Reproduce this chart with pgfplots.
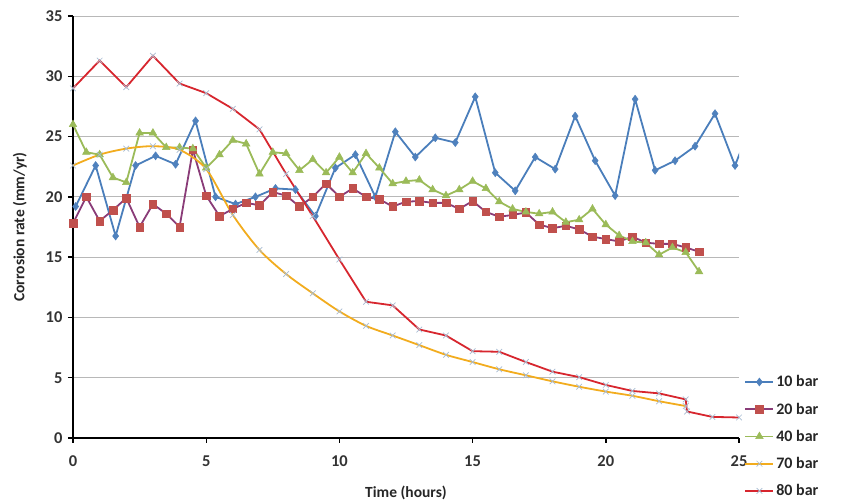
\documentclass[border=0pt]{standalone}
\usepackage{pgfplots}
\pgfplotsset{compat=1.18}
\usepackage{fontspec}
\setmainfont{Carlito}
\definecolor{cblue}{HTML}{4A7EBB}
\definecolor{cbluem}{HTML}{4F81BD}
\definecolor{cred}{HTML}{C0504D}
\definecolor{cpurp}{HTML}{8A3C78}
\definecolor{cgreen}{HTML}{9BBB59}
\definecolor{corange}{HTML}{F2AC1E}
\definecolor{cred2}{HTML}{D7262E}
\definecolor{cxm}{HTML}{A8BCD2}
\begin{document}
\begin{tikzpicture}
\begin{axis}[
  scale only axis, width=666pt, height=422pt,
  xmin=0, xmax=25, ymin=0, ymax=35,
  xtick={0,5,...,25}, ytick={0,5,...,35},
  axis x line*=bottom, axis y line*=left,
  axis line style={line width=1.8pt, black, -},
  tick align=outside, major tick length=5pt,
  tick style={line width=1.4pt, black},
  ymajorgrids, grid style={black!28, line width=0.9pt},
  /pgf/number format/assume math mode=true,
  tick label style={font=\fontsize{16.5}{16.5}\selectfont\bfseries, black!80},
  xticklabel style={yshift=-9pt},
  yticklabel style={xshift=-2pt},
  xlabel={Time (hours)}, ylabel={Corrosion rate (mm/yr)},
  label style={font=\fontsize{15.5}{15.5}\selectfont\bfseries, black!85},
  xlabel style={yshift=-13pt},
  ylabel style={yshift=12pt},
  legend style={at={(rel axis cs:1.008,0.153)}, anchor=north west, draw=none, fill=none,
    font=\fontsize{16}{16}\selectfont\bfseries, row sep=10.5pt, text=black!85,
    inner sep=0pt},
  legend cell align=left,
  legend image code/.code={\draw[mark repeat=2,mark phase=2] plot coordinates {(0pt,0pt) (14pt,0pt) (28pt,0pt)};},
  clip=true,
]
\coordinate (sw) at (rel axis cs:0,0);
\addplot[color=cblue, line width=1.8pt, mark=diamond*, mark size=4pt, mark options={fill=cbluem, draw=cbluem, line width=0.5pt}] coordinates {
(0.1,19.2) (0.85,22.6) (1.6,16.75) (2.35,22.6) (3.1,23.4) (3.85,22.7) (4.6,26.3) (5.35,20.0)
(6.1,19.4) (6.85,20.0) (7.6,20.7) (8.35,20.6) (9.1,18.4) (9.85,22.4) (10.6,23.5) (11.35,20.0)
(12.1,25.4) (12.85,23.3) (13.6,24.9) (14.35,24.5) (15.1,28.3) (15.85,22.0) (16.6,20.5) (17.35,23.3)
(18.1,22.3) (18.85,26.7) (19.6,23.0) (20.35,20.1) (21.1,28.1) (21.85,22.2) (22.6,23.0) (23.35,24.2)
(24.1,26.9) (24.85,22.6) (25.6,26.8)};
\addlegendentry{10 bar}
\addplot[color=cpurp, line width=1.8pt, mark=square*, mark size=3.8pt, mark options={fill=cred, draw=cred, line width=0.5pt}] coordinates {
(0,17.8) (0.5,20.0) (1.0,18.0) (1.5,18.9) (2.0,19.9) (2.5,17.5) (3.0,19.4) (3.5,18.6)
(4.0,17.5) (4.5,23.9) (5.0,20.1) (5.5,18.4) (6.0,19.0) (6.5,19.5) (7.0,19.3) (7.5,20.4)
(8.0,20.1) (8.5,19.2) (9.0,20.0) (9.5,21.1) (10.0,20.0) (10.5,20.7) (11.0,20.0) (11.5,19.8)
(12.0,19.2) (12.5,19.6) (13.0,19.65) (13.5,19.5) (14.0,19.5) (14.5,19.0) (15.0,19.65) (15.5,18.75)
(16.0,18.35) (16.5,18.5) (17.0,18.7) (17.5,17.7) (18.0,17.4) (18.5,17.6) (19.0,17.3) (19.5,16.7)
(20.0,16.5) (20.5,16.3) (21.0,16.7) (21.5,16.2) (22.0,16.1) (22.5,16.1) (23.0,15.8) (23.5,15.45)};
\addlegendentry{20 bar}
\addplot[color=cgreen, line width=1.8pt, mark=triangle*, mark size=4.4pt, mark options={fill=cgreen, draw=cgreen, line width=0.5pt}] coordinates {
(0,26.0) (0.5,23.7) (1.0,23.5) (1.5,21.6) (2.0,21.2) (2.5,25.3) (3.0,25.3) (3.5,24.1)
(4.0,24.1) (4.5,24.0) (5.0,22.4) (5.5,23.5) (6.0,24.7) (6.5,24.4) (7.0,21.9) (7.5,23.7)
(8.0,23.6) (8.5,22.2) (9.0,23.1) (9.5,22.0) (10.0,23.3) (10.5,22.0) (11.0,23.6) (11.5,22.4)
(12.0,21.1) (12.5,21.3) (13.0,21.4) (13.5,20.6) (14.0,20.1) (14.5,20.6) (15.0,21.3) (15.5,20.7)
(16.0,19.6) (16.5,19.0) (17.0,18.75) (17.5,18.6) (18.0,18.75) (18.5,17.9) (19.0,18.1) (19.5,19.0)
(20.0,17.7) (20.5,16.8) (21.0,16.3) (21.5,16.2) (22.0,15.2) (22.5,15.8) (23.0,15.4) (23.5,13.8)};
\addlegendentry{40 bar}
\addplot[color=corange, line width=1.8pt, smooth, mark=x, mark size=4pt, mark options={draw=cxm, line width=0.7pt}] coordinates {
(0,22.6) (1,23.5) (2,24.0) (3,24.2) (4,23.9) (5,22.3) (6,18.5) (7,15.6) (8,13.6) (9,12.0)
(10,10.5) (11,9.3) (12,8.5) (13,7.7) (14,6.9) (15,6.3) (16,5.7) (17,5.2) (18,4.7) (19,4.25)
(20,3.85) (21,3.5) (22,3.05) (23,2.65)};
\addlegendentry{70 bar}
\addplot[color=cred2, line width=1.8pt, mark=x, mark size=4pt, mark options={draw=cxm, line width=0.7pt}] coordinates {
(0,29.0) (1,31.3) (2,29.1) (3,31.7) (4,29.4) (5,28.6) (6,27.3) (7,25.6) (8,21.9) (9,18.4)
(10,14.8) (11,11.3) (12,11.0) (13,9.0) (14,8.5) (15,7.2) (16,7.15) (17,6.3) (18,5.5) (19,5.05)
(20,4.4) (21,3.9) (22,3.7) (23,3.2) (23.05,2.2) (24,1.75) (25,1.7)};
\addlegendentry{80 bar}
\end{axis}
\pgfresetboundingbox
\path (sw) ++(-73pt,-64pt) rectangle ++(843pt,502pt);
\end{tikzpicture}
\end{document}
